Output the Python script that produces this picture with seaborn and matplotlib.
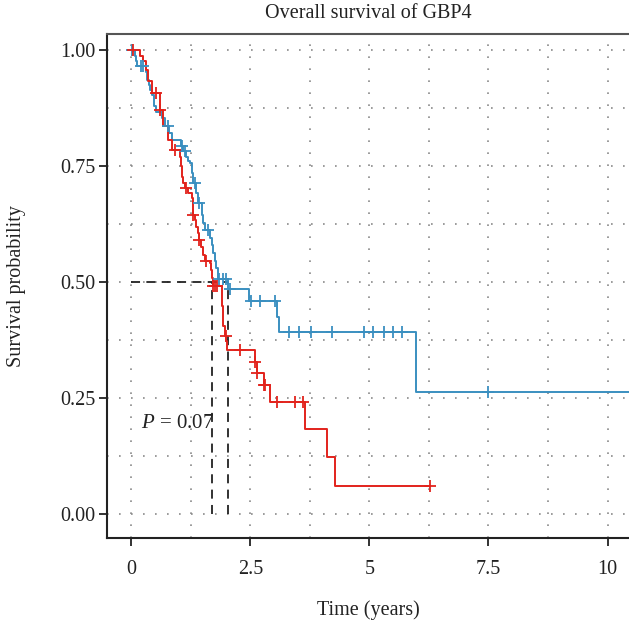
import numpy as np
import pandas as pd
import matplotlib
matplotlib.use("Agg")
import matplotlib.pyplot as plt
import seaborn as sns

# ---- data ----
red_time = [0, 0.18, 0.25, 0.30, 0.36, 0.43, 0.60, 0.67, 0.78, 0.85, 1.02, 1.04, 1.06, 1.09,
            1.13, 1.20, 1.27, 1.29, 1.30, 1.34, 1.37, 1.41, 1.43, 1.46, 1.50, 1.55, 1.65, 1.67,
            1.69, 1.72, 1.90, 1.92, 1.97, 2.00, 2.02, 2.60, 2.65, 2.79, 2.91, 3.65, 4.12, 4.28, 6.27]
red_surv = [1.0, 0.987, 0.975, 0.957, 0.932, 0.907, 0.871, 0.835, 0.806, 0.784, 0.770, 0.749, 0.727, 0.713,
            0.702, 0.691, 0.680, 0.666, 0.644, 0.634, 0.619, 0.605, 0.591, 0.576, 0.558, 0.544, 0.540, 0.526,
            0.508, 0.492, 0.447, 0.404, 0.383, 0.372, 0.353, 0.328, 0.303, 0.278, 0.242, 0.1825, 0.122, 0.060, 0.060]
red_cens = [0.03, 0.53, 0.60, 0.92, 1.16, 1.30, 1.43, 1.58, 1.72, 1.76, 1.80, 1.99,
            2.28, 2.60, 2.65, 2.79, 2.81, 3.05, 3.44, 3.61, 6.27]

blue_time = [0, 0.04, 0.08, 0.10, 0.12, 0.32, 0.33, 0.38, 0.39, 0.43, 0.48, 0.52, 0.64, 0.71, 0.80,
             0.85, 1.04, 1.08, 1.16, 1.20, 1.23, 1.27, 1.30, 1.37, 1.41, 1.48, 1.51, 1.55, 1.65, 1.69,
             1.72, 1.76, 1.79, 1.83, 2.03, 2.47, 3.07, 3.10, 5.98, 10.6]
blue_surv = [1.0, 0.997, 0.986, 0.975, 0.964, 0.953, 0.935, 0.924, 0.914, 0.903, 0.878, 0.867, 0.853, 0.835, 0.820,
             0.806, 0.792, 0.781, 0.770, 0.760, 0.756, 0.734, 0.713, 0.691, 0.670, 0.644, 0.626, 0.612, 0.594, 0.580,
             0.562, 0.544, 0.530, 0.506, 0.484, 0.459, 0.425, 0.393, 0.262, 0.262]
blue_cens = [0.01, 0.21, 0.25, 0.78, 1.06, 1.13, 1.34, 1.43, 1.62, 1.85, 1.92, 1.99, 2.07,
             2.51, 2.70, 3.02, 3.32, 3.52, 3.77, 4.22, 4.89, 5.07, 5.31, 5.50, 5.68, 7.5]

median_times = [1.70, 2.03]
x_ticks = [0, 2.5, 5, 7.5, 10]
x_ticklabels = ["0", "2.5", "5", "7.5", "10"]
y_ticks = [0, 0.25, 0.5, 0.75, 1.0]
y_ticklabels = ["0.00", "0.25", "0.50", "0.75", "1.00"]

RED = "#e2231c"
BLUE = "#3a8fc0"

sns.set_style("white")
plt.rcParams["font.family"] = ["Liberation Serif", "DejaVu Serif"]
plt.rcParams["mathtext.fontset"] = "custom"
plt.rcParams["mathtext.it"] = "Liberation Serif:italic"
plt.rcParams["mathtext.rm"] = "Liberation Serif"

fig = plt.figure(figsize=(6.29, 6.25), dpi=100)
ax = fig.add_axes([0.170, 0.139, 0.830, 0.8066])
ax.set_xlim(-0.51, 10.45)
ax.set_ylim(-0.052, 1.034)

# grid (dotted, every half tick)
for gx in np.arange(0, 10.5, 1.25):
    ax.axvline(gx, color="#8a8a8a", lw=1.2, ls=(0, (1, 6.2)), zorder=0)
for gy in np.arange(0, 1.01, 0.125):
    ax.axhline(gy, color="#8a8a8a", lw=1.2, ls=(0, (1, 6.2)), zorder=0)

def surv_at(times, survs, t):
    idx = np.searchsorted(np.array(times), t, side="right") - 1
    return np.array(survs)[idx]

red_df = pd.DataFrame({"time": red_time, "surv": red_surv})
blue_df = pd.DataFrame({"time": blue_time, "surv": blue_surv})
sns.lineplot(data=blue_df, x="time", y="surv", drawstyle="steps-post", estimator=None,
             color=BLUE, lw=1.4, ax=ax, zorder=3)
sns.lineplot(data=red_df, x="time", y="surv", drawstyle="steps-post", estimator=None,
             color=RED, lw=1.4, ax=ax, zorder=3)

rc = pd.DataFrame({"time": red_cens, "surv": surv_at(red_time, red_surv, red_cens)})
bc = pd.DataFrame({"time": blue_cens, "surv": surv_at(blue_time, blue_surv, blue_cens)})
ax.plot(bc["time"], bc["surv"], ls="none", marker="+", ms=9, mew=1.3, color=BLUE, zorder=4)
ax.plot(rc["time"], rc["surv"], ls="none", marker="+", ms=9, mew=1.3, color=RED, zorder=4)

# median lines
dash = (0, (5, 3.5))
ax.plot([0, max(median_times)], [0.5, 0.5], color="#222222", lw=1.3, ls=dash, zorder=2)
for mt in median_times:
    ax.plot([mt, mt], [0, 0.5], color="#222222", lw=1.3, ls=dash, zorder=2)

ax.text(0.2, 0.194, "$P$ = 0.07", fontsize=15, va="center", ha="left", color="#222222")

ax.set_xticks(x_ticks)
ax.set_xticklabels(x_ticklabels)
ax.set_yticks(y_ticks)
ax.set_yticklabels(y_ticklabels)
ax.tick_params(axis="both", direction="out", length=6, width=1.3, labelsize=14.5, color="#222222",
               labelcolor="#222222", left=True, bottom=True)
ax.tick_params(axis="y", pad=2)
ax.tick_params(axis="x", pad=10)

ax.set_xlabel("Time (years)", fontsize=14.5, labelpad=15, color="#222222")
ax.set_ylabel("Survival probability", fontsize=14.5, labelpad=25, color="#222222")
fig.text(0.585, 0.978, "Overall survival of GBP4", fontsize=14.5, ha="center", va="center",
         color="#222222")

for s in ["left", "bottom"]:
    ax.spines[s].set_color("#222222")
    ax.spines[s].set_linewidth(1.5)
ax.spines["top"].set_color("#555555")
ax.spines["top"].set_linewidth(1.5)
ax.spines["right"].set_visible(False)

fig.savefig("out.png", dpi=100)
